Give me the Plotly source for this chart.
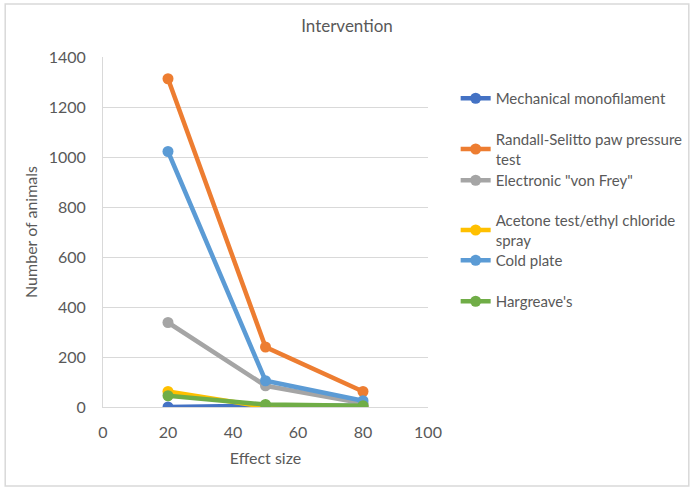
import plotly.graph_objects as go

effect_size = [20, 50, 80]
series_names = [
    "Mechanical monofilament",
    "Randall-Selitto paw pressure<br>test",
    "Electronic \"von Frey\"",
    "Acetone test/ethyl chloride<br>spray",
    "Cold plate",
    "Hargreave's",
]
mechanical = [0, 5, 5]
randall = [1313, 240, 62]
electronic = [338, 85, 15]
acetone = [62, 0, 0]
cold_plate = [1022, 105, 25]
hargreaves = [45, 10, 5]
series_values = [mechanical, randall, electronic, acetone, cold_plate, hargreaves]
colors = ["#4472C4", "#ED7D31", "#A5A5A5", "#FFC000", "#5B9BD5", "#70AD47"]
y_ticks = [0, 200, 400, 600, 800, 1000, 1200, 1400]
x_ticks = [0, 20, 40, 60, 80, 100]

W, H = 700, 490
L, R, T, B = 103, 432, 57, 407

fig = go.Figure()
legend_names = ["legend", "legend2", "legend3", "legend4", "legend5", "legend6"]
legend_y_px = [98, 139, 180, 220, 260, 301]
font_family = "Lato, 'Open Sans', sans-serif"
txt = "#595959"
layout_legends = {}
for i, (name, vals, col) in enumerate(zip(series_names, series_values, colors)):
    fig.add_trace(go.Scatter(
        x=effect_size, y=vals, name=name, mode="lines+markers",
        line=dict(color=col, width=4.5),
        marker=dict(color=col, size=11),
        legend=legend_names[i], showlegend=True,
    ))
    ypx = legend_y_px[i]
    layout_legends[legend_names[i]] = dict(
        x=(460 - L) / (R - L), xanchor="left",
        y=(B - (ypx - 16)) / (B - T), yanchor="top",
        bgcolor="rgba(0,0,0,0)",
        font=dict(family=font_family, size=15, color=txt),
        itemwidth=30,
        tracegroupgap=0,
        visible=True,
    )

fig.update_layout(
    width=W, height=H,
    showlegend=True,
    margin=dict(l=L, r=W - R, t=T, b=H - B),
    paper_bgcolor="white", plot_bgcolor="white",
    title=dict(text="Intervention", x=(350 - L) / (R - L), xref="paper", xanchor="center",
               y=1 - 26 / H, yanchor="middle",
               font=dict(family=font_family, size=17, color=txt)),
    xaxis=dict(range=[0, 100], tickvals=x_ticks, showgrid=False,
               showline=True, linecolor="#D9D9D9", linewidth=1, zeroline=False,
               ticks="", ticklabelstandoff=11,
               tickfont=dict(family=font_family, size=16, color=txt),
               title=dict(text="Effect size", font=dict(family=font_family, size=16, color=txt), standoff=12)),
    yaxis=dict(range=[0, 1400], tickvals=y_ticks, showgrid=True, gridcolor="#D9D9D9",
               showline=True, linecolor="#D9D9D9", linewidth=1, zeroline=False,
               ticks="", ticklabelstandoff=13,
               tickfont=dict(family=font_family, size=16, color=txt),
               title=dict(text="Number of animals", font=dict(family=font_family, size=16, color=txt), standoff=7)),
    **layout_legends,
)
fig.add_shape(type="rect", xref="paper", yref="paper",
              x0=(4 - L) / (R - L), x1=(696 - L) / (R - L),
              y0=(B - 486) / (B - T), y1=(B - 4) / (B - T),
              line=dict(color="#D9D9D9", width=1.5), fillcolor="rgba(0,0,0,0)", layer="below")
fig.write_html("out.html", config={"displayModeBar": False},
               post_script="document.body.style.margin='0';document.body.style.padding='0';")
